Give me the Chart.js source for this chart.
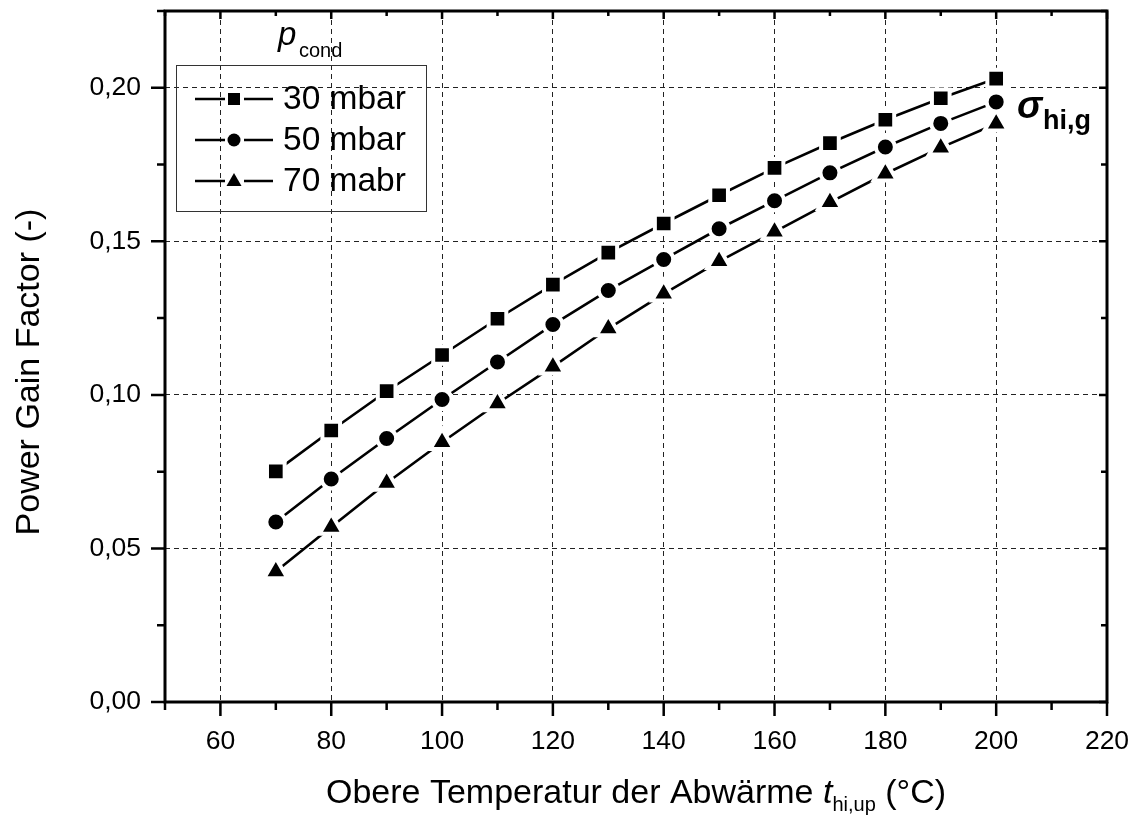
<!DOCTYPE html>
<html>
<head>
<meta charset="utf-8">
<script src="https://cdn.jsdelivr.net/npm/chart.js@4.4.1/dist/chart.umd.min.js"></script>
<style>
html, body { margin: 0; padding: 0; background: #fff; }
#wrap { width: 1135px; height: 816px; }
</style>
</head>
<body>
<div id="wrap"><canvas id="chart" width="1135" height="816"></canvas></div>
<script>
// data
var temps = [70, 80, 90, 100, 110, 120, 130, 140, 150, 160, 170, 180, 190, 200];
var gain30 = [0.0751, 0.0884, 0.1012, 0.1130, 0.1248, 0.1359, 0.1463, 0.1558, 0.1650, 0.1739, 0.1820, 0.1896, 0.1966, 0.2030];
var gain50 = [0.0586, 0.0726, 0.0858, 0.0985, 0.1107, 0.1229, 0.1340, 0.1441, 0.1541, 0.1632, 0.1723, 0.1807, 0.1884, 0.1954];
var gain70 = [0.0425, 0.0570, 0.0713, 0.0846, 0.0972, 0.1092, 0.1216, 0.1329, 0.1435, 0.1531, 0.1627, 0.1720, 0.1805, 0.1883];
var seriesLabels = ['30 mbar', '50 mbar', '70 mabr'];
var xMajorTicks = [60, 80, 100, 120, 140, 160, 180, 200, 220];
var yMajorTicks = [0, 0.05, 0.10, 0.15, 0.20];

var FONT = "'Liberation Sans', Arial, sans-serif";

function isMajor(list, v) {
	for (var i = 0; i < list.length; i++) {
		if (Math.abs(list[i] - v) < 1e-6) return true;
	}
	return false;
}

function points(ys) {
	return temps.map(function(t, i) { return {x: t, y: ys[i]}; });
}

function seriesSet(label, ys, style, radius) {
	return {
		label: label,
		data: points(ys),
		borderColor: '#000',
		borderWidth: 2.6,
		pointStyle: style,
		pointRadius: radius,
		pointHoverRadius: radius,
		pointBackgroundColor: '#000',
		pointBorderColor: '#fff',
		pointBorderWidth: 4,
		tension: 0
	};
}

var legendMarks = ['rect', 'circle', 'triangle'];

function drawMark(ctx, style, x, y) {
	ctx.beginPath();
	if (style === 'rect') {
		ctx.rect(x - 6, y - 6, 12, 12);
	} else if (style === 'circle') {
		ctx.arc(x, y, 6.5, 0, Math.PI * 2);
	} else {
		ctx.moveTo(x, y - 8);
		ctx.lineTo(x + 7.5, y + 5);
		ctx.lineTo(x - 7.5, y + 5);
		ctx.closePath();
	}
	ctx.fill();
}

var decorPlugin = {
	id: 'decor',
	afterDraw: function(chart) {
		var ctx = chart.ctx;
		var a = chart.chartArea;
		var xs = chart.scales.x, ys = chart.scales.y;
		ctx.save();
		ctx.fillStyle = '#000';
		ctx.strokeStyle = '#000';

		// frame
		ctx.lineWidth = 3;
		ctx.strokeRect(a.left, a.top, a.right - a.left, a.bottom - a.top);

		// tick marks: outside on bottom/left, inside on top/right
		ctx.lineWidth = 2.5;
		ctx.beginPath();
		xs.ticks.forEach(function(t) {
			var p = xs.getPixelForValue(t.value);
			var big = isMajor(xMajorTicks, t.value);
			ctx.moveTo(p, a.bottom);
			ctx.lineTo(p, a.bottom + (big ? 14 : 8));
			ctx.moveTo(p, a.top);
			ctx.lineTo(p, a.top + (big ? 8 : 5));
		});
		ys.ticks.forEach(function(t) {
			var p = ys.getPixelForValue(t.value);
			var big = isMajor(yMajorTicks, t.value);
			ctx.moveTo(a.left, p);
			ctx.lineTo(a.left - (big ? 14 : 8), p);
			ctx.moveTo(a.right, p);
			ctx.lineTo(a.right - (big ? 8 : 6), p);
		});
		ctx.stroke();

		// legend box
		ctx.lineWidth = 1;
		ctx.strokeStyle = '#333';
		ctx.strokeRect(176.5, 65.5, 250, 146);
		ctx.strokeStyle = '#000';
		var rows = [99, 140, 181];
		ctx.font = '33.5px ' + FONT;
		ctx.textAlign = 'left';
		ctx.textBaseline = 'middle';
		for (var i = 0; i < seriesLabels.length; i++) {
			var yy = rows[i];
			ctx.lineWidth = 2.5;
			ctx.beginPath();
			ctx.moveTo(195, yy); ctx.lineTo(225, yy);
			ctx.moveTo(244, yy); ctx.lineTo(273, yy);
			ctx.stroke();
			drawMark(ctx, legendMarks[i], 234, yy);
			ctx.fillText(seriesLabels[i], 283, yy + 1);
		}

		// legend title p_cond
		ctx.textBaseline = 'alphabetic';
		ctx.font = 'italic 33px ' + FONT;
		ctx.fillText('p', 278, 45);
		ctx.font = '20px ' + FONT;
		ctx.fillText('cond', 299, 57);

		// sigma annotation
		ctx.font = 'italic bold 38px ' + FONT;
		ctx.fillText('\u03c3', 1017, 118);
		ctx.font = 'bold 27px ' + FONT;
		ctx.fillText('hi,g', 1043, 129);

		// x axis title
		var parts = [
			{t: 'Obere Temperatur der Abw\u00e4rme ', f: '34px ' + FONT, dy: 0},
			{t: 't', f: 'italic 34px ' + FONT, dy: 0},
			{t: 'hi,up', f: '20px ' + FONT, dy: 8},
			{t: ' (\u00b0C)', f: '34px ' + FONT, dy: 0}
		];
		var total = 0;
		parts.forEach(function(p) { ctx.font = p.f; p.w = ctx.measureText(p.t).width; total += p.w; });
		var x0 = (a.left + a.right) / 2 - total / 2;
		parts.forEach(function(p) {
			ctx.font = p.f;
			ctx.fillText(p.t, x0, 803 + p.dy);
			x0 += p.w;
		});

		// y axis title
		ctx.save();
		ctx.translate(30, 372);
		ctx.rotate(-Math.PI / 2);
		ctx.textAlign = 'center';
		ctx.textBaseline = 'middle';
		ctx.font = '34px ' + FONT;
		ctx.fillText('Power Gain Factor (-)', 0, 0);
		ctx.restore();

		ctx.restore();
	}
};

new Chart(document.getElementById('chart'), {
	type: 'line',
	data: {
		datasets: [
			seriesSet(seriesLabels[0], gain30, 'rect', 12.5),
			seriesSet(seriesLabels[1], gain50, 'circle', 9.5),
			seriesSet(seriesLabels[2], gain70, 'triangle', 13.5)
		]
	},
	options: {
		responsive: false,
		animation: false,
		devicePixelRatio: 1,
		layout: { autoPadding: false, padding: { left: 0, top: 11, right: 28, bottom: 0 } },
		plugins: {
			legend: { display: false },
			tooltip: { enabled: false },
			title: { display: false }
		},
		scales: {
			x: {
				type: 'linear',
				min: 50,
				max: 220,
				afterFit: function(s) { s.height = 114; s.paddingLeft = 0; s.paddingRight = 0; },
				ticks: {
					stepSize: 10,
					padding: 24,
					maxRotation: 0,
					autoSkip: false,
					color: '#000',
					font: { family: FONT, size: 26.5 },
					callback: function(v) { return isMajor(xMajorTicks, v) ? String(v) : ''; }
				},
				grid: {
					drawTicks: false,
					lineWidth: 1,
					color: function(c) {
						var v = c.tick ? c.tick.value : null;
						return (v !== null && isMajor(xMajorTicks, v) && v !== 220) ? '#222' : 'rgba(0,0,0,0)';
					}
				},
				border: { display: false, dash: [5, 4] }
			},
			y: {
				min: 0,
				max: 0.225,
				afterFit: function(s) { s.width = 165; s.paddingTop = 0; s.paddingBottom = 0; },
				ticks: {
					stepSize: 0.025,
					padding: 24,
					autoSkip: false,
					color: '#000',
					font: { family: FONT, size: 26.5 },
					callback: function(v) { return isMajor(yMajorTicks, v) ? v.toFixed(2).replace('.', ',') : ''; }
				},
				grid: {
					drawTicks: false,
					lineWidth: 1,
					color: function(c) {
						var v = c.tick ? c.tick.value : null;
						return (v !== null && isMajor(yMajorTicks, v) && v > 0.001) ? '#222' : 'rgba(0,0,0,0)';
					}
				},
				border: { display: false, dash: [5, 4] }
			}
		}
	},
	plugins: [decorPlugin]
});
</script>
</body>
</html>
